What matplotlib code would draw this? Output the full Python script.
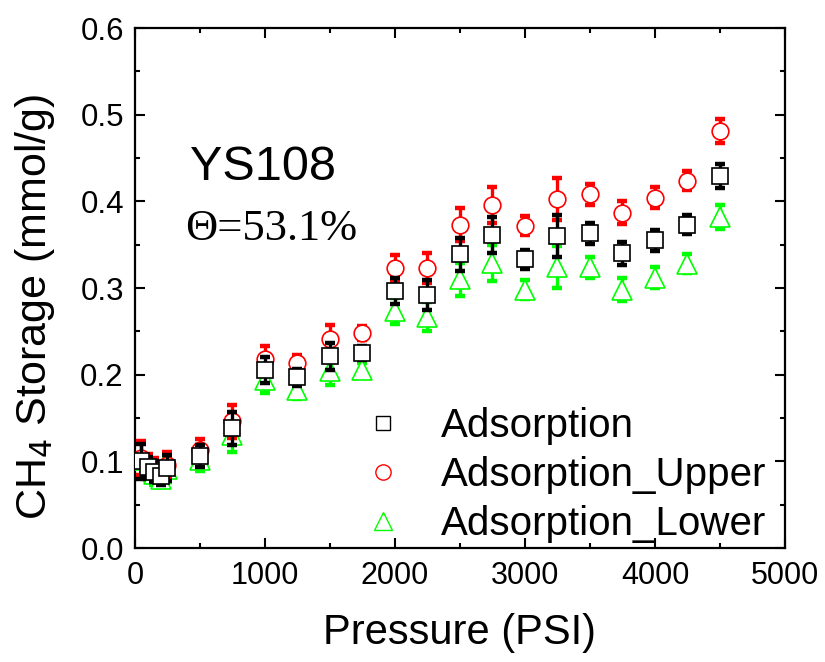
import matplotlib
matplotlib.use("Agg")
import matplotlib.pyplot as plt
from matplotlib.lines import Line2D
from matplotlib.ticker import MultipleLocator, FormatStrFormatter

# Pressure points (PSI)
pressure = [50, 100, 150, 200, 250, 500, 750, 1000, 1250, 1500, 1750,
            2000, 2250, 2500, 2750, 3000, 3250, 3500, 3750, 4000, 4250, 4500]

# CH4 storage (mmol/g)
adsorption = [0.100, 0.093, 0.088, 0.083, 0.092, 0.106, 0.138, 0.205, 0.197,
              0.221, 0.225, 0.296, 0.292, 0.339, 0.361, 0.333, 0.360, 0.363,
              0.340, 0.355, 0.373, 0.429]
adsorption_upper = [0.104, 0.097, 0.092, 0.087, 0.096, 0.113, 0.146, 0.218,
                    0.213, 0.241, 0.248, 0.323, 0.323, 0.373, 0.396, 0.372,
                    0.403, 0.408, 0.387, 0.404, 0.424, 0.481]
adsorption_lower = [0.101, 0.090, 0.085, 0.080, 0.091, 0.102, 0.130, 0.194,
                    0.182, 0.204, 0.205, 0.273, 0.267, 0.310, 0.329, 0.298,
                    0.324, 0.324, 0.298, 0.312, 0.328, 0.382]

# Measurement uncertainty at each pressure (mmol/g)
uncertainty = [0.020, 0.012, 0.012, 0.010, 0.015, 0.013, 0.019, 0.015, 0.010,
               0.016, 0.008, 0.015, 0.017, 0.019, 0.021, 0.011, 0.024, 0.012,
               0.013, 0.012, 0.011, 0.014]

labels = ["Adsorption", "Adsorption_Upper", "Adsorption_Lower"]

plt.rcParams["font.family"] = ["Liberation Sans", "DejaVu Sans"]

GREEN = "#00FF00"
RED = "#FF0000"
BLACK = "#000000"

fig = plt.figure(figsize=(8.25, 6.62), dpi=100)
ax = fig.add_axes([0.1636, 0.1722, 0.7879, 0.7855])

series = [
    (adsorption_lower, "^", GREEN, 14),
    (adsorption_upper, "o", RED, 12),
    (adsorption, "s", BLACK, 11),
]

z = 2
for values, marker, color, ms in series:
    ax.errorbar(pressure, values, yerr=uncertainty, fmt="none",
                ecolor=color, elinewidth=2.4, capsize=3.8, capthick=3.2,
                zorder=z)
    ax.plot(pressure, values, linestyle="none", marker=marker,
            markersize=ms, markerfacecolor="white", markeredgecolor=color,
            markeredgewidth=1.2, zorder=z + 1)
    z += 2

ax.set_xlim(0, 5000)
ax.set_ylim(0.0, 0.6)
ax.xaxis.set_major_locator(MultipleLocator(1000))
ax.xaxis.set_minor_locator(MultipleLocator(500))
ax.yaxis.set_major_locator(MultipleLocator(0.1))
ax.yaxis.set_minor_locator(MultipleLocator(0.05))
ax.yaxis.set_major_formatter(FormatStrFormatter("%.1f"))

ax.tick_params(which="both", direction="in", top=True, right=True, width=1.5)
ax.tick_params(which="major", length=7)
ax.tick_params(which="minor", length=3.6)
ax.tick_params(axis="x", labelsize=22, pad=9)
ax.tick_params(axis="y", labelsize=22.5, pad=8)
for spine in ax.spines.values():
    spine.set_linewidth(1.6)

ax.set_xlabel("Pressure (PSI)", fontsize=30)
ax.xaxis.set_label_coords(0.5, -0.125)
ax.set_ylabel(r"CH$_4$ Storage (mmol/g)", fontsize=31)
ax.yaxis.set_label_coords(-0.12, 0.4635)

ax.text(0.085, 0.708, "YS108", transform=ax.transAxes, fontsize=35,
        ha="left", va="baseline")
ax.text(0.077, 0.592, "\u0398=53.1%", transform=ax.transAxes, fontsize=32,
        ha="left", va="baseline", family=["Liberation Serif", "DejaVu Serif"])

handles = [
    Line2D([], [], linestyle="none", marker="s", markersize=10,
           markerfacecolor="white", markeredgecolor=BLACK,
           markeredgewidth=1.0),
    Line2D([], [], linestyle="none", marker="o", markersize=11,
           markerfacecolor="white", markeredgecolor=RED,
           markeredgewidth=1.0),
    Line2D([], [], linestyle="none", marker="^", markersize=13,
           markerfacecolor="white", markeredgecolor=GREEN,
           markeredgewidth=1.0),
]
ax.legend(handles, labels, loc="center left", bbox_to_anchor=(0.320, 0.1404),
          frameon=False, fontsize=29, handlelength=1.0, handletextpad=0.94,
          labelspacing=0.27, borderpad=0.0)

fig.savefig("out.png", dpi=100)
